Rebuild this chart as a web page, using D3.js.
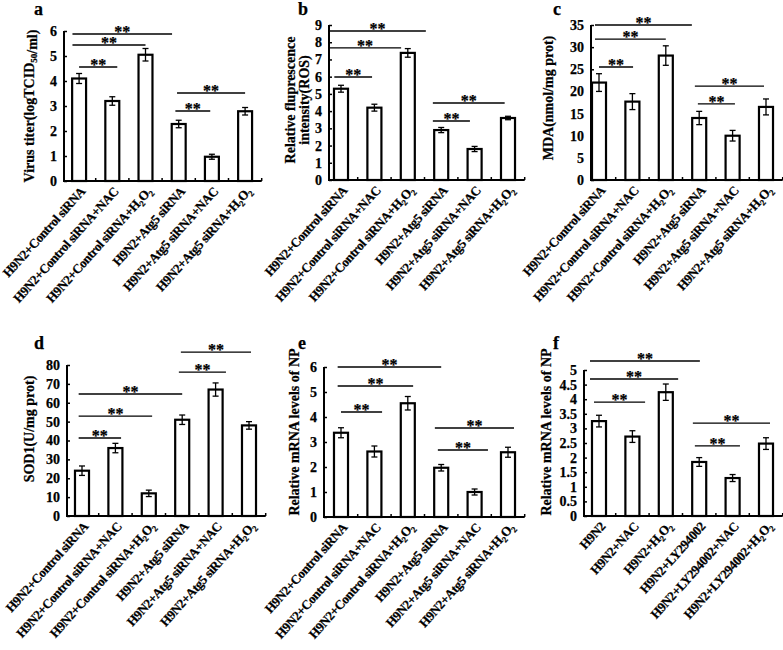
<!DOCTYPE html>
<html><head><meta charset="utf-8">
<script src="https://cdn.jsdelivr.net/npm/d3@7"></script>
<style>
body{margin:0;background:#fff;}
text{font-family:"Liberation Serif","Times New Roman",serif;font-weight:bold;fill:#000;stroke:#000;stroke-width:0.25px;}
</style></head>
<body><div id="chart"></div>
<script>
// ---------- data ----------
const catsSi = ["H9N2+Control siRNA","H9N2+Control siRNA+NAC","H9N2+Control siRNA+H2O2","H9N2+Atg5 siRNA","H9N2+Atg5 siRNA+NAC","H9N2+Atg5 siRNA+H2O2"];
const catsLY = ["H9N2","H9N2+NAC","H9N2+H2O2","H9N2+LY294002","H9N2+LY294002+NAC","H9N2+LY294002+H2O2"];

const valsA = [4.1,3.2,5.05,2.28,0.97,2.79];
const errA  = [0.2,0.17,0.25,0.15,0.1,0.15];
const valsB = [5.3,4.2,7.38,2.9,1.8,3.6];
const errB  = [0.2,0.2,0.25,0.15,0.15,0.1];
const valsC = [22,17.7,28.1,14,10,16.5];
const errC  = [2,1.8,2.2,1.5,1.2,1.8];
const valsD = [24,36,12,51,67,48];
const errD  = [2.5,2.5,1.7,2.5,3.5,2];
const valsE = [3.37,2.62,4.55,1.97,1.0,2.59];
const errE  = [0.2,0.22,0.27,0.13,0.12,0.2];
const valsF = [3.25,2.72,4.24,1.85,1.3,2.48];
const errF  = [0.2,0.2,0.28,0.15,0.12,0.2];

const ticksA = [0,1,2,3,4,5,6];
const ticksB = [0,1,2,3,4,5,6,7,8,9];
const ticksC = [0,5,10,15,20,25,30,35];
const ticksD = [0,10,20,30,40,50,60,70,80];
const ticksE = [0,1,2,3,4,5,6];
const ticksF = [0,0.5,1,1.5,2,2.5,3,3.5,4,4.5,5];

// significance brackets: [from index, to index, y value]
const sigA = [[-0.2,2.8,5.88],[-0.2,2.0,5.44],[0,1.15,4.56],[2.95,5,3.52],[2.9,3.95,2.8]];
const sigB = [[-0.36,2.54,8.65],[-0.36,1.8,7.67],[-0.2,0.93,5.98],[2.75,4.9,4.47],[2.75,3.86,3.43]];
const sigC = [[-0.12,2.78,35.0],[-0.12,2.0,31.8],[0,1.02,25.5],[2.87,4.94,21.2],[2.96,4.07,17.2]];
const sigD = [[-0.1,1.17,41.3],[-0.1,2.1,52.9],[-0.1,3.0,64.6],[2.9,4.31,76.2],[2.96,5.06,86.8]];
const sigE = [[-0.1,3.0,6.0],[-0.1,2.16,5.24],[0,1.23,4.2],[2.81,5.18,3.56],[2.9,4.4,2.68]];
const sigF = [[-0.27,3.02,5.31],[-0.27,2.37,4.69],[-0.15,1.38,3.9],[2.81,5.12,3.18],[2.87,4.22,2.4]];

// ---------- drawing ----------
const W = 783, H = 650;
const svg = d3.select("#chart").append("svg").attr("width",W).attr("height",H);

function addRich(sel, str){
  const parts = str.split(/(H2O2)/);
  parts.forEach(p=>{
    if(p==="H2O2"){
      sel.append("tspan").text("H");
      sel.append("tspan").attr("dy",3).attr("font-size","8.5px").text("2");
      sel.append("tspan").attr("dy",-3).text("O");
      sel.append("tspan").attr("dy",3).attr("font-size","8.5px").text("2");
      sel.append("tspan").attr("dy",-3).text("");
    } else if(p.length) sel.append("tspan").text(p);
  });
}

function panel(cfg){
  const g = svg.append("g");
  const n = cfg.cats.length;
  const x = d3.scaleBand().domain(cfg.cats)
    .range([cfg.bandStart, cfg.bandStart + n*cfg.step])
    .paddingInner(0.58).paddingOuter(0.29);
  const bw = x.bandwidth();
  const y = d3.scaleLinear().domain([0, cfg.max]).range([cfg.yBottom, cfg.yTop]);
  const idx = d3.scaleLinear().domain([0,1])
    .range([x(cfg.cats[0])+bw/2, x(cfg.cats[1])+bw/2]);

  // y axis
  const ya = g.append("g").attr("transform",`translate(${cfg.axisX},0)`)
    .call(d3.axisLeft(y).tickValues(cfg.ticks).tickSize(-3).tickPadding(7).tickFormat(d=>String(d)));
  ya.select(".domain").attr("stroke","#000").attr("stroke-width",2)
    .attr("d",`M0,${cfg.yBottom}V${cfg.yTop}`);
  ya.selectAll(".tick line").attr("stroke","#000").attr("stroke-width",1.5);
  ya.selectAll(".tick text").style("font-family",'"Liberation Serif",serif')
    .style("font-weight","bold").style("font-size","14px");

  // bars
  g.selectAll("rect.bar").data(cfg.vals).join("rect")
    .attr("x",(d,i)=>x(cfg.cats[i])).attr("width",bw)
    .attr("y",d=>y(d)).attr("height",d=>y(0)-y(d))
    .attr("fill","#fff").attr("stroke","#000").attr("stroke-width",2.2);

  // error bars
  cfg.vals.forEach((v,i)=>{
    const cx = x(cfg.cats[i])+bw/2, e = cfg.err[i];
    g.append("line").attr("x1",cx).attr("x2",cx).attr("y1",y(v-e)).attr("y2",y(v+e))
      .attr("stroke","#000").attr("stroke-width",1.3);
    [v-e,v+e].forEach(t=>g.append("line").attr("x1",cx-3).attr("x2",cx+3)
      .attr("y1",y(t)).attr("y2",y(t)).attr("stroke","#000").attr("stroke-width",1.3));
  });

  // x axis
  const xEnd = cfg.bandStart + n*cfg.step;
  g.append("line").attr("x1",cfg.axisX-1).attr("x2",xEnd).attr("y1",cfg.yBottom).attr("y2",cfg.yBottom)
    .attr("stroke","#000").attr("stroke-width",2);
  d3.range(1,n+1).forEach(k=>{
    const tx = cfg.bandStart + k*cfg.step;
    g.append("line").attr("x1",tx).attr("x2",tx).attr("y1",cfg.yBottom).attr("y2",cfg.yBottom-3)
      .attr("stroke","#000").attr("stroke-width",1.5);
  });

  // x labels
  cfg.cats.forEach((c,i)=>{
    const cx = x(c)+bw/2;
    const t = g.append("text").attr("text-anchor","end").style("font-size","13px")
      .style("letter-spacing","-0.4px")
      .attr("transform",`translate(${cx+7},${cfg.yBottom+11}) rotate(-48)`);
    addRich(t,c);
  });

  // significance brackets
  cfg.sig.forEach(s=>{
    const x1 = idx(s[0]), x2 = idx(s[1]), yy = y(s[2]);
    g.append("line").attr("x1",x1).attr("x2",x2).attr("y1",yy).attr("y2",yy)
      .attr("stroke","#000").attr("stroke-width",1.4);
    g.append("text").attr("x",(x1+x2)/2).attr("y",yy+3).attr("text-anchor","middle")
      .style("font-size","16px").text("**");
  });

  // panel letter
  g.append("text").attr("x",cfg.letterX).attr("y",cfg.letterY).style("font-size","18px").text(cfg.letter);

  // y title
  cfg.title.forEach((line,li)=>{
    const t = g.append("text").attr("text-anchor","middle").attr("dy","0.35em")
      .style("font-size","14px")
      .attr("transform",`translate(${cfg.titleX[li]},${cfg.titleY}) rotate(-90)`);
    line.forEach(seg=>{
      if(typeof seg==="string") t.append("tspan").text(seg);
      else { t.append("tspan").attr("dy",3).attr("font-size","9px").text(seg.sub);
             t.append("tspan").attr("dy",-3).text(""); }
    });
  });
}

panel({cats:catsSi, vals:valsA, err:errA, ticks:ticksA, sig:sigA, max:6,
  axisX:64, bandStart:62.5, step:33.2, yBottom:181, yTop:31,
  letter:"a", letterX:34, letterY:15,
  title:[["Virus titer(logTCID",{sub:"50"},"/ml)"]], titleX:[29], titleY:106});
panel({cats:catsSi, vals:valsB, err:errB, ticks:ticksB, sig:sigB, max:9,
  axisX:329, bandStart:324.3, step:33.4, yBottom:180, yTop:25,
  letter:"b", letterX:298, letterY:15,
  title:[["Relative fluprescence"],["intensity(ROS)"]], titleX:[290,304], titleY:100});
panel({cats:catsSi, vals:valsC, err:errC, ticks:ticksC, sig:sigC, max:35,
  axisX:591, bandStart:582.3, step:33.4, yBottom:180, yTop:25,
  letter:"c", letterX:553, letterY:15,
  title:[["MDA(nmol/mg prot)"]], titleX:[548], titleY:98});
panel({cats:catsSi, vals:valsD, err:errD, ticks:ticksD, sig:sigD, max:80,
  axisX:67, bandStart:65.3, step:33.4, yBottom:516, yTop:365,
  letter:"d", letterX:34, letterY:349,
  title:[["SOD1(U/mg prot)"]], titleX:[29], titleY:429});
panel({cats:catsSi, vals:valsE, err:errE, ticks:ticksE, sig:sigE, max:6,
  axisX:324, bandStart:324.3, step:33.4, yBottom:517, yTop:367,
  letter:"e", letterX:298, letterY:349,
  title:[["Relative mRNA levels of NP"]], titleX:[294], titleY:432});
panel({cats:catsLY, vals:valsF, err:errF, ticks:ticksF, sig:sigF, max:5,
  axisX:584, bandStart:582.3, step:33.4, yBottom:516, yTop:370,
  letter:"f", letterX:553, letterY:349,
  title:[["Relative mRNA levels of NP"]], titleX:[546], titleY:432});
</script></body></html>
